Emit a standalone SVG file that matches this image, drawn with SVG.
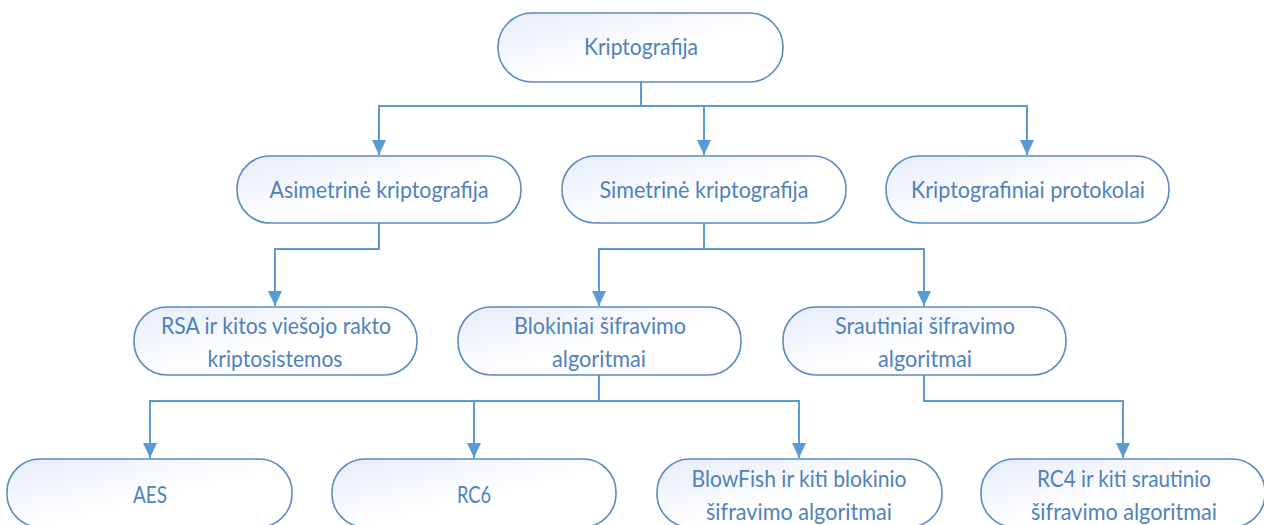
<svg xmlns="http://www.w3.org/2000/svg" width="1264" height="525" viewBox="0 0 1264 525">
  <defs>
    <linearGradient id="boxFill" x1="0" y1="0" x2="1" y2="1">
      <stop offset="0" stop-color="#E6ECF7"/>
      <stop offset="0.55" stop-color="#FFFFFF"/>
      <stop offset="1" stop-color="#FFFFFF"/>
    </linearGradient>
    <marker id="arrow" markerUnits="userSpaceOnUse" markerWidth="15" markerHeight="16" refX="15" refY="7" orient="auto">
      <path d="M0,0 L15,7 L0,14 Z" fill="#5B9BD5"/>
    </marker>
    <style>
      .box { fill: url(#boxFill); stroke: #5A8AC6; stroke-width: 1.6; }
      .lbl { font-family: Lato, "Open Sans", "Liberation Sans", sans-serif; font-size: 22.5px; fill: #4F81BD; text-anchor: middle; }
      .conn { fill: none; stroke: #5B9BD5; stroke-width: 2; }
    </style>
  </defs>

  <rect width="1264" height="525" fill="#FFFFFF"/>

  <!-- connectors -->
  <g id="connectors">
    <path class="conn" d="M641,82 V106 H379 V155" marker-end="url(#arrow)"/>
    <path class="conn" d="M641,106 H704 V155" marker-end="url(#arrow)"/>
    <path class="conn" d="M641,106 H1027 V155" marker-end="url(#arrow)"/>
    <path class="conn" d="M379,223 V249 H275 V306" marker-end="url(#arrow)"/>
    <path class="conn" d="M704,223 V249 H599 V306" marker-end="url(#arrow)"/>
    <path class="conn" d="M704,249 H924 V306" marker-end="url(#arrow)"/>
    <path class="conn" d="M599,375 V401 H150 V458" marker-end="url(#arrow)"/>
    <path class="conn" d="M599,401 H474 V458" marker-end="url(#arrow)"/>
    <path class="conn" d="M599,401 H799 V458" marker-end="url(#arrow)"/>
    <path class="conn" d="M924,375 V401 H1123 V458" marker-end="url(#arrow)"/>
  </g>

  <!-- level 0 -->
  <g id="kriptografija">
    <rect class="box" x="498" y="13" width="285" height="69" rx="34"/>
    <text class="lbl" x="641" y="55" textLength="114" lengthAdjust="spacingAndGlyphs">Kriptografija</text>
  </g>

  <!-- level 1 -->
  <g id="asimetrine">
    <rect class="box" x="237" y="156" width="284" height="67" rx="33"/>
    <text class="lbl" x="379" y="198" textLength="219" lengthAdjust="spacingAndGlyphs">Asimetrinė kriptografija</text>
  </g>
  <g id="simetrine">
    <rect class="box" x="562" y="156" width="284" height="67" rx="33"/>
    <text class="lbl" x="704" y="198" textLength="209" lengthAdjust="spacingAndGlyphs">Simetrinė kriptografija</text>
  </g>
  <g id="protokolai">
    <rect class="box" x="886" y="156" width="283" height="67" rx="33"/>
    <text class="lbl" x="1028" y="198" textLength="234" lengthAdjust="spacingAndGlyphs">Kriptografiniai protokolai</text>
  </g>

  <!-- level 2 -->
  <g id="rsa">
    <rect class="box" x="134" y="307" width="283" height="68" rx="33"/>
    <text class="lbl" x="276" y="334" textLength="230" lengthAdjust="spacingAndGlyphs">RSA ir kitos viešojo rakto</text>
    <text class="lbl" x="275" y="367" textLength="135" lengthAdjust="spacingAndGlyphs">kriptosistemos</text>
  </g>
  <g id="blokiniai">
    <rect class="box" x="458" y="307" width="283" height="68" rx="33"/>
    <text class="lbl" x="600" y="334" textLength="172" lengthAdjust="spacingAndGlyphs">Blokiniai šifravimo</text>
    <text class="lbl" x="599" y="367" textLength="94" lengthAdjust="spacingAndGlyphs">algoritmai</text>
  </g>
  <g id="srautiniai">
    <rect class="box" x="783" y="307" width="283" height="68" rx="33"/>
    <text class="lbl" x="925" y="334" textLength="180" lengthAdjust="spacingAndGlyphs">Srautiniai šifravimo</text>
    <text class="lbl" x="925" y="367" textLength="94" lengthAdjust="spacingAndGlyphs">algoritmai</text>
  </g>

  <!-- level 3 -->
  <g id="aes">
    <rect class="box" x="7" y="459" width="285" height="68" rx="33"/>
    <text class="lbl" x="150" y="503" textLength="34" lengthAdjust="spacingAndGlyphs">AES</text>
  </g>
  <g id="rc6">
    <rect class="box" x="332" y="459" width="284" height="68" rx="33"/>
    <text class="lbl" x="474" y="503" textLength="34" lengthAdjust="spacingAndGlyphs">RC6</text>
  </g>
  <g id="blowfish">
    <rect class="box" x="657" y="459" width="285" height="68" rx="33"/>
    <text class="lbl" x="799" y="487" textLength="215" lengthAdjust="spacingAndGlyphs">BlowFish ir kiti blokinio</text>
    <text class="lbl" x="799" y="520" textLength="186" lengthAdjust="spacingAndGlyphs">šifravimo algoritmai</text>
  </g>
  <g id="rc4">
    <rect class="box" x="981" y="459" width="284" height="68" rx="33"/>
    <text class="lbl" x="1124" y="487" textLength="174" lengthAdjust="spacingAndGlyphs">RC4 ir kiti srautinio</text>
    <text class="lbl" x="1124" y="520" textLength="186" lengthAdjust="spacingAndGlyphs">šifravimo algoritmai</text>
  </g>
</svg>
